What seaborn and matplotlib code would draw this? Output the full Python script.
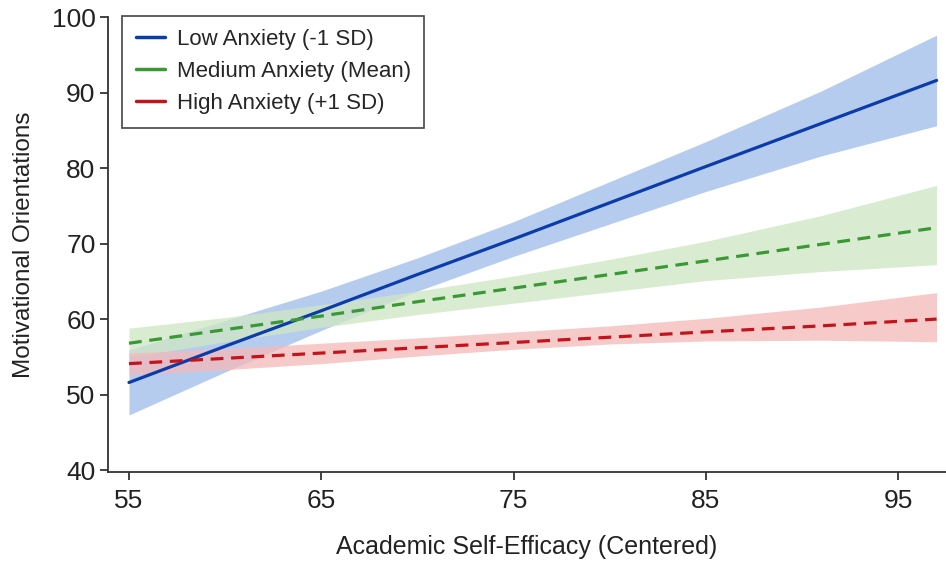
import matplotlib
matplotlib.use("Agg")
import matplotlib.pyplot as plt
from matplotlib.lines import Line2D
import seaborn as sns
import pandas as pd

# ---- data ----
x_grid = [55, 60, 65, 70, 75, 80, 85, 91, 97]

low_fit = [51.6, 56.4, 61.1, 65.9, 70.6, 75.4, 80.2, 85.9, 91.6]
low_lower = [47.3, 53.0, 58.5, 63.7, 68.3, 72.6, 76.9, 81.6, 85.6]
low_upper = [55.9, 59.8, 63.7, 68.1, 72.9, 78.2, 83.5, 90.2, 97.6]

med_fit = [56.8, 58.6, 60.4, 62.3, 64.1, 65.9, 67.7, 69.9, 72.1]
med_lower = [54.9, 57.0, 58.9, 60.6, 62.1, 63.6, 65.1, 66.3, 67.2]
med_upper = [58.8, 60.2, 61.9, 63.7, 65.7, 67.9, 70.3, 73.7, 77.7]

high_fit = [54.1, 54.8, 55.5, 56.2, 56.9, 57.6, 58.3, 59.1, 60.0]
high_lower = [52.6, 53.3, 54.1, 55.1, 56.0, 56.7, 57.1, 57.2, 57.0]
high_upper = [55.5, 56.1, 56.8, 57.5, 58.3, 59.1, 60.1, 61.6, 63.5]

series_names = ["Low Anxiety (-1 SD)", "Medium Anxiety (Mean)", "High Anxiety (+1 SD)"]
x_ticks = [55, 65, 75, 85, 95]
y_ticks = [40, 50, 60, 70, 80, 90, 100]
x_label = "Academic Self-Efficacy (Centered)"
y_label = "Motivational Orientations"

# ---- style ----
sns.set_theme(style="ticks")
plt.rcParams["font.family"] = ["Liberation Sans", "DejaVu Sans"]

line_colors = ["#0b3ca8", "#3a9934", "#c2141c"]
band_colors = ["#a9c3ec", "#cfe6c5", "#f5b9b9"]
band_alpha = [0.85, 0.78, 0.75]

fig = plt.figure(figsize=(9.46, 5.65), dpi=100)
ax = fig.add_axes([0.1142, 0.1646, 0.8858, 0.8053])

fits = [low_fit, med_fit, high_fit]
lowers = [low_lower, med_lower, high_lower]
uppers = [low_upper, med_upper, high_upper]

# confidence bands first
for i in range(3):
    ax.fill_between(x_grid, lowers[i], uppers[i], color=band_colors[i],
                    alpha=band_alpha[i], linewidth=0, zorder=1)

dashes = [None, (4, 2.4), (4, 2.4)]
for i in range(3):
    df = pd.DataFrame({"x": x_grid, "y": fits[i]})
    sns.lineplot(data=df, x="x", y="y", ax=ax, color=line_colors[i],
                 linewidth=2.3, zorder=3)
    ln = ax.lines[-1]
    if dashes[i] is not None:
        ln.set_dashes(dashes[i])

ax.set_xlim(53.91, 97.49)
ax.set_ylim(39.75, 100)
ax.set_xticks(x_ticks)
ax.set_yticks(y_ticks)
ax.tick_params(axis="both", labelsize=19, length=6, width=1.2, colors="#222222",
               labelcolor="#222222")
ax.tick_params(axis="x", pad=6)
ax.tick_params(axis="y", pad=3)
for s in ["top", "right"]:
    ax.spines[s].set_visible(False)
for s in ["left", "bottom"]:
    ax.spines[s].set_linewidth(1.3)
    ax.spines[s].set_color("#333333")

ax.set_xlabel(x_label, fontsize=18, color="#222222", labelpad=16)
ax.set_ylabel(y_label, fontsize=17.5, color="#222222", labelpad=12)

handles = [Line2D([0], [0], color=c, linewidth=2.5) for c in line_colors]
leg = ax.legend(handles, series_names, loc="upper left",
                bbox_to_anchor=(0.017, 1.003), fontsize=16, frameon=True,
                fancybox=False, edgecolor="#444444", handlelength=1.3,
                handletextpad=0.55, borderpad=0.6, labelspacing=0.5,
                borderaxespad=0)
leg.get_frame().set_linewidth(1.2)
leg.get_frame().set_alpha(1)

fig.savefig("out.png", dpi=100)
